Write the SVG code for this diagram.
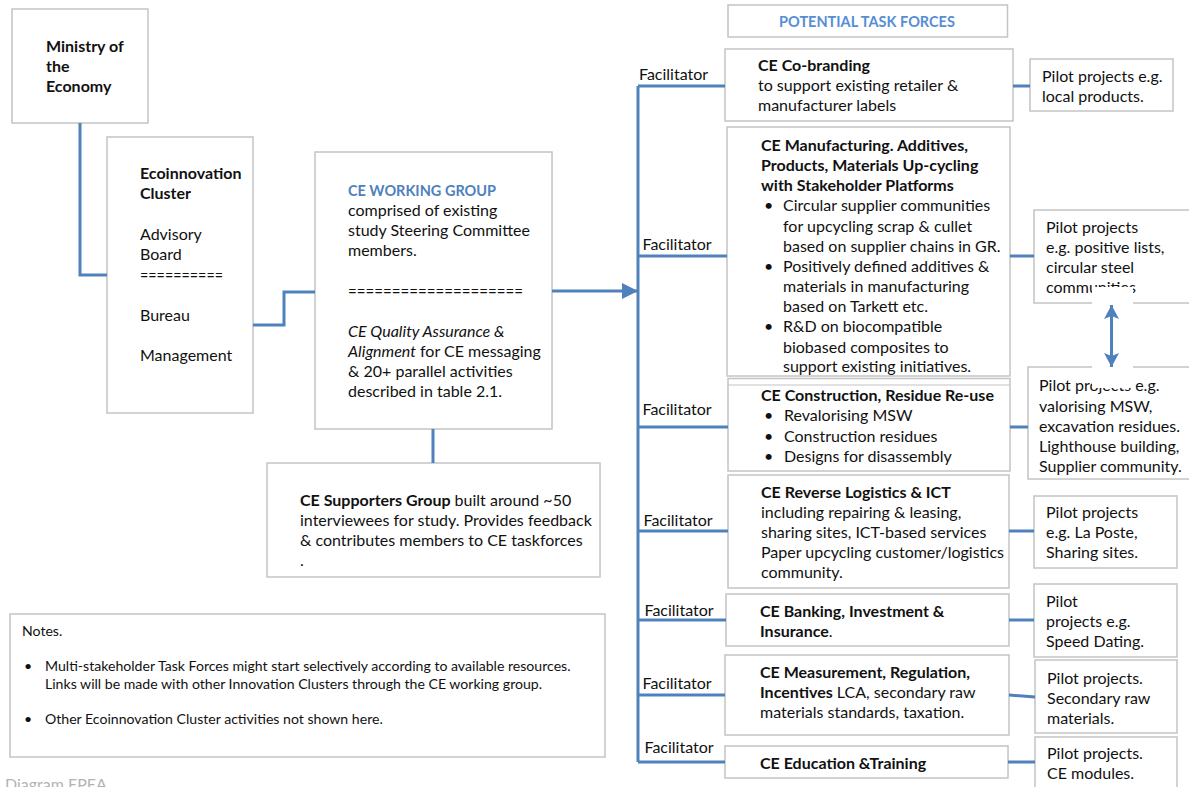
<svg xmlns="http://www.w3.org/2000/svg" width="1189" height="787" viewBox="0 0 1189 787">
<style>
.box{fill:#fff;stroke:#c4c4c4;stroke-width:1.5}
.ln{fill:none;stroke:#4f81bd;stroke-width:3}
text{font-family:Lato,"Open Sans",sans-serif;font-size:16px;fill:#111}
.b{font-weight:bold}
.i{font-style:italic}
.blue{fill:#4f81bd}
.sm{font-size:14.1px}
.ttl{font-size:14.5px;font-weight:bold;fill:#558ed5}
.gray{fill:#b4b4b4}
</style>
<defs>
<marker id="ah" markerUnits="userSpaceOnUse" markerWidth="16" markerHeight="16" refX="16" refY="8" orient="auto"><path d="M0,0 L16,8 L0,16 z" fill="#4f81bd"/></marker>
<marker id="ah2" markerUnits="userSpaceOnUse" markerWidth="16" markerHeight="16" refX="14" refY="8" orient="auto-start-reverse"><path d="M0,0.5 L14,8 L0,15.5 L3,8 z" fill="#4f81bd"/></marker>
</defs>

<g id="ministry">
<rect class="box" x="12" y="9" width="136" height="114"/>
<text class="b" x="46" y="52">Ministry of</text>
<text class="b" x="46" y="72">the</text>
<text class="b" x="46" y="92">Economy</text>
</g>

<g id="ecoinnovation-cluster">
<rect class="box" x="107" y="137" width="146" height="276"/>
<text class="b" x="140" y="179">Ecoinnovation</text>
<text class="b" x="140" y="199">Cluster</text>
<text x="140" y="240">Advisory</text>
<text x="140" y="260">Board</text>
<text x="140" y="281" textLength="83" lengthAdjust="spacingAndGlyphs">==========</text>
<text x="140" y="321">Bureau</text>
<text x="140" y="361">Management</text>
</g>

<g id="ce-working-group">
<rect class="box" x="315" y="152" width="237" height="277"/>
<text class="b blue" x="348" y="196" style="font-size:14.5px">CE WORKING GROUP</text>
<text x="348" y="216">comprised of existing</text>
<text x="348" y="236">study Steering Committee</text>
<text x="348" y="256">members.</text>
<text x="348" y="297" textLength="175" lengthAdjust="spacingAndGlyphs">====================</text>
<text class="i" x="348" y="337">CE Quality Assurance &amp;</text>
<text x="348" y="357"><tspan class="i">Alignment</tspan> for CE messaging</text>
<text x="348" y="377">&amp; 20+ parallel activities</text>
<text x="348" y="397">described in table 2.1.</text>
</g>

<g id="ce-supporters-group">
<rect class="box" x="267" y="463" width="333" height="114"/>
<text x="300" y="506"><tspan class="b">CE Supporters Group</tspan> built around ~50</text>
<text x="300" y="526">interviewees for study. Provides feedback</text>
<text x="300" y="546">&amp; contributes members to CE taskforces</text>
<text x="300" y="566">.</text>
</g>

<g id="notes">
<rect class="box" x="10" y="614" width="595" height="143"/>
<text class="sm" x="22" y="636">Notes.</text>
<text class="sm" x="24" y="671">•</text>
<text class="sm" x="45" y="671">Multi-stakeholder Task Forces might start selectively according to available resources.</text>
<text class="sm" x="45" y="689">Links will be made with other Innovation Clusters through the CE working group.</text>
<text class="sm" x="24" y="724">•</text>
<text class="sm" x="45" y="724">Other Ecoinnovation Cluster activities not shown here.</text>
</g>

<g id="caption">
<text class="gray" x="5" y="790">Diagram EPEA</text>
</g>

<g id="potential-task-forces">
<rect class="box" x="728" y="5" width="279.5" height="32"/>
<text class="ttl" x="867" y="27" text-anchor="middle">POTENTIAL TASK FORCES</text>
</g>

<g id="facilitator-labels">
<text x="639" y="80">Facilitator</text>
<text x="642.5" y="250">Facilitator</text>
<text x="642.5" y="415">Facilitator</text>
<text x="643.5" y="526">Facilitator</text>
<text x="644.5" y="616">Facilitator</text>
<text x="642.5" y="689">Facilitator</text>
<text x="644.5" y="753">Facilitator</text>
</g>

<g id="tf-cobranding">
<rect class="box" x="725" y="49" width="288" height="72"/>
<text class="b" x="758" y="71">CE Co-branding</text>
<text x="758" y="91">to support existing retailer &amp;</text>
<text x="758" y="111">manufacturer labels</text>
</g>

<g id="tf-manufacturing">
<rect class="box" x="727" y="127" width="283" height="249"/>
<text class="b" x="761" y="151">CE  Manufacturing. Additives,</text>
<text class="b" x="761" y="171">Products, Materials Up-cycling</text>
<text class="b" x="761" y="191">with Stakeholder Platforms</text>
<text x="764" y="211">•</text>
<text x="783" y="211">Circular supplier communities</text>
<text x="783" y="232">for upcycling scrap &amp; cullet</text>
<text x="783" y="252">based on supplier chains in GR.</text>
<text x="764" y="272">•</text>
<text x="783" y="272">Positively defined additives &amp;</text>
<text x="783" y="292">materials in manufacturing</text>
<text x="783" y="312">based on Tarkett etc.</text>
<text x="764" y="332">•</text>
<text x="783" y="332">R&amp;D on biocompatible</text>
<text x="783" y="353">biobased composites to</text>
<text x="783" y="372">support existing initiatives.</text>
</g>

<g id="tf-construction">
<rect class="box" x="728" y="378.5" width="282" height="92.5"/>
<line x1="728" y1="385" x2="1010" y2="385" stroke="#c4c4c4" stroke-width="1.2"/>
<text class="b" x="761" y="401">CE Construction, Residue Re-use</text>
<text x="764" y="421">•</text>
<text x="784" y="421">Revalorising MSW</text>
<text x="764" y="442">•</text>
<text x="784" y="442">Construction residues</text>
<text x="764" y="462">•</text>
<text x="784" y="462">Designs for disassembly</text>
</g>

<g id="tf-reverse-logistics">
<rect class="box" x="728" y="475" width="281" height="113"/>
<text class="b" x="761" y="498">CE Reverse Logistics &amp; ICT</text>
<text x="761" y="518">including repairing &amp; leasing,</text>
<text x="761" y="538">sharing sites, ICT-based services</text>
<text x="761" y="558">Paper upcycling customer/logistics</text>
<text x="761" y="578">community.</text>
</g>

<g id="tf-banking">
<rect class="box" x="726" y="594" width="283" height="52"/>
<text class="b" x="760" y="617">CE Banking, Investment &amp;</text>
<text x="760" y="637"><tspan class="b">Insurance</tspan>.</text>
</g>

<g id="tf-measurement">
<rect class="box" x="725" y="655" width="284" height="80"/>
<text class="b" x="760" y="678">CE Measurement, Regulation,</text>
<text x="760" y="698"><tspan class="b">Incentives</tspan> LCA, secondary raw</text>
<text x="760" y="718">materials standards, taxation.</text>
</g>

<g id="tf-education">
<rect class="box" x="725" y="746" width="283" height="32"/>
<text class="b" x="760" y="769">CE Education &amp;Training</text>
</g>

<g id="pilot-cobranding">
<rect class="box" x="1030" y="59" width="143" height="52"/>
<text x="1042" y="82">Pilot projects e.g.</text>
<text x="1042" y="102">local products.</text>
</g>

<g id="pilot-manufacturing">
<rect class="box" x="1034" y="210" width="160" height="93"/>
<text x="1046" y="233">Pilot projects</text>
<text x="1046" y="253">e.g. positive lists,</text>
<text x="1046" y="273">circular steel</text>
<text x="1046" y="293">communities</text>
</g>

<g id="pilot-construction">
<rect class="box" x="1028" y="367" width="170" height="112"/>
<text x="1039" y="391">Pilot projects e.g.</text>
<text x="1039" y="412">valorising MSW,</text>
<text x="1039" y="432">excavation residues.</text>
<text x="1039" y="452">Lighthouse building,</text>
<text x="1039" y="472">Supplier community.</text>
</g>

<g id="pilot-reverse-logistics">
<rect class="box" x="1034" y="496" width="143" height="72"/>
<text x="1046" y="518">Pilot projects</text>
<text x="1046" y="538">e.g. La Poste,</text>
<text x="1046" y="558">Sharing sites.</text>
</g>

<g id="pilot-banking">
<rect class="box" x="1034" y="584" width="143" height="73"/>
<text x="1046" y="607">Pilot</text>
<text x="1046" y="627">projects e.g.</text>
<text x="1046" y="647">Speed Dating.</text>
</g>

<g id="pilot-measurement">
<rect class="box" x="1035" y="660" width="142" height="73"/>
<text x="1047" y="684">Pilot projects.</text>
<text x="1047" y="704">Secondary raw</text>
<text x="1047" y="724">materials.</text>
</g>

<g id="pilot-education">
<rect class="box" x="1035" y="737" width="142" height="70"/>
<text x="1047" y="759">Pilot projects.</text>
<text x="1047" y="779">CE modules.</text>
</g>

<g id="connectors">
<path class="ln" d="M80,123 V275 H107"/>
<path class="ln" d="M253,325 H284 V292 H315"/>
<path class="ln" d="M552,291 H638" marker-end="url(#ah)"/>
<path class="ln" d="M433,429 V463"/>
<path class="ln" d="M638,86 V762"/>
<path class="ln" d="M638,86 H725"/>
<path class="ln" d="M638,256 H727"/>
<path class="ln" d="M638,427 H728"/>
<path class="ln" d="M638,531 H728"/>
<path class="ln" d="M638,620 H726"/>
<path class="ln" d="M638,695 H725"/>
<path class="ln" d="M638,762 H725"/>
<path class="ln" d="M1013,86 H1030"/>
<path class="ln" d="M1010,256 H1034"/>
<path class="ln" d="M1010,427 H1028"/>
<path class="ln" d="M1009,531 H1034"/>
<path class="ln" d="M1009,620 H1034"/>
<path class="ln" d="M1009,695 L1035,697"/>
<path class="ln" d="M1008,762 H1035"/>
<rect x="1092" y="287" width="41" height="101" fill="#fff"/>
<path class="ln" d="M1111.5,305 V367" marker-start="url(#ah2)" marker-end="url(#ah2)"/>
</g>
</svg>
